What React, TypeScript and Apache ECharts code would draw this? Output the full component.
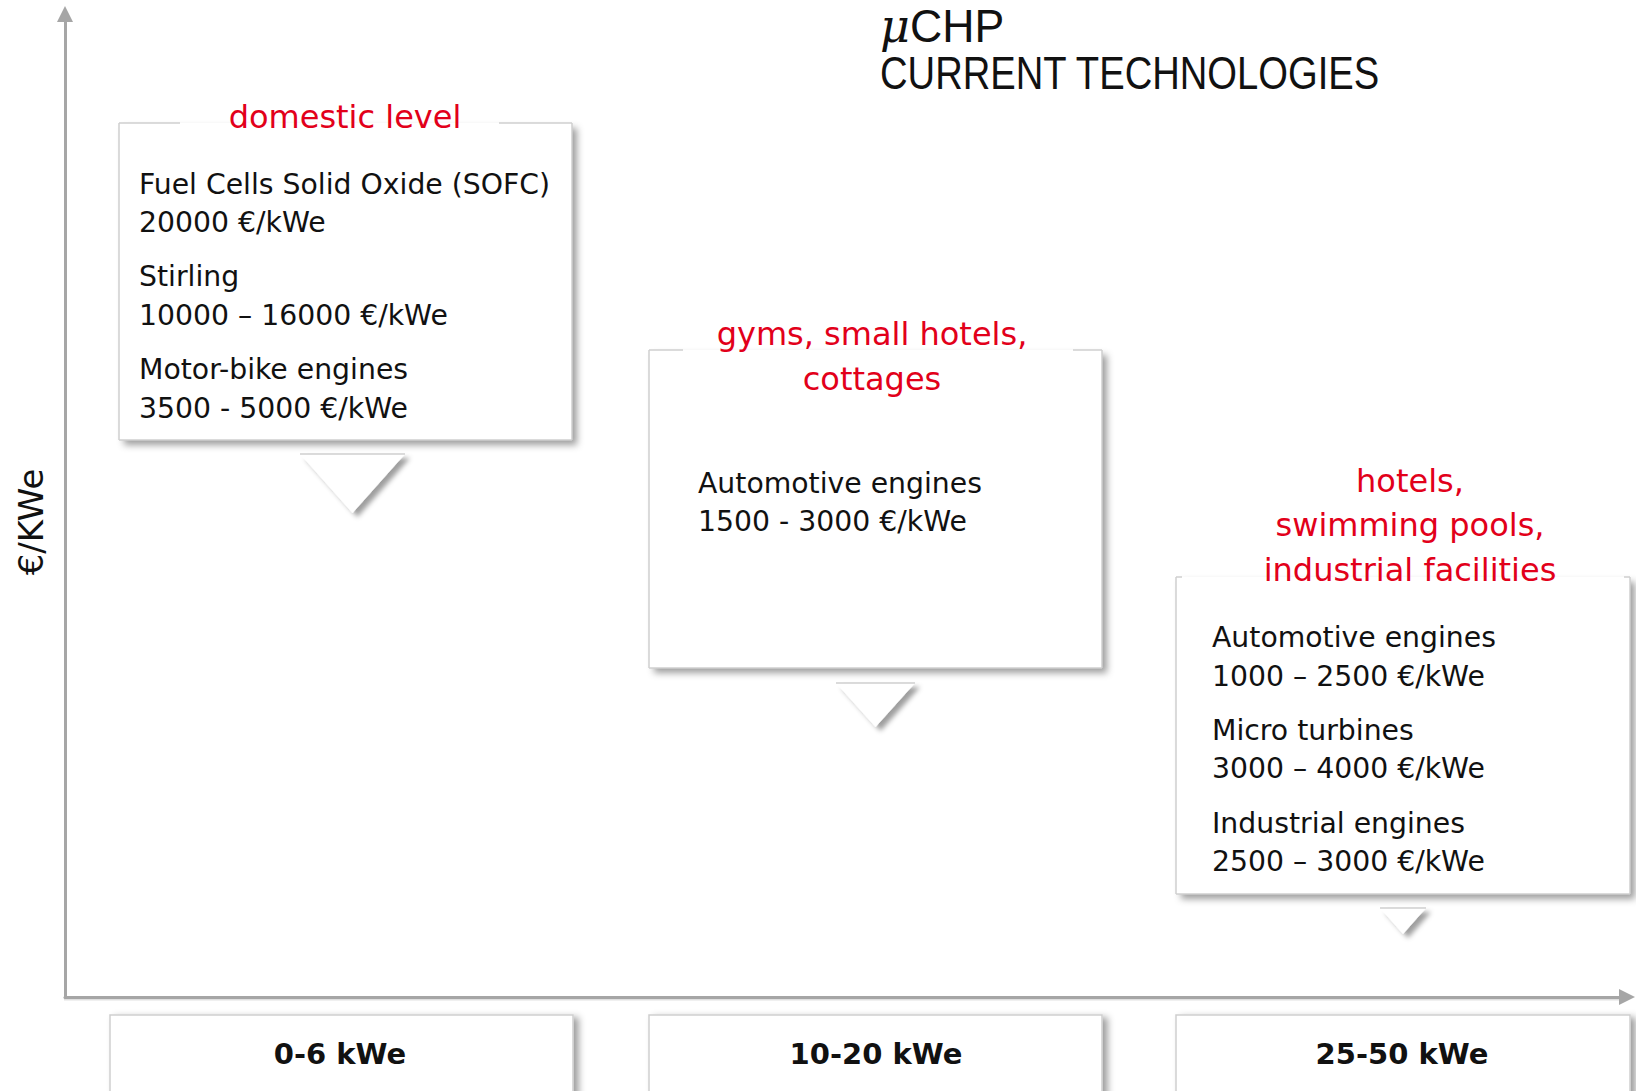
import React, { useEffect, useRef } from "react";
import * as echarts from "echarts";

// ---- content ----
const categories = ["0-6 kWe", "10-20 kWe", "25-50 kWe"];
const segmentTitles = [
  ["domestic level"],
  ["gyms, small hotels,", "cottages"],
  ["hotels,", "swimming pools,", "industrial facilities"],
];
const technologies = [
  [
    ["Fuel Cells Solid Oxide (SOFC)", "20000 €/kWe"],
    ["Stirling", "10000 – 16000 €/kWe"],
    ["Motor-bike engines", "3500 - 5000 €/kWe"],
  ],
  [["Automotive engines", "1500 - 3000 €/kWe"]],
  [
    ["Automotive engines", "1000 – 2500 €/kWe"],
    ["Micro turbines", "3000 – 4000 €/kWe"],
    ["Industrial engines", "2500 – 3000 €/kWe"],
  ],
];
const axisName = "€/KWe";
const titleMain = "CHP";
const titleSub = "CURRENT TECHNOLOGIES";

// ---- layout ----
const RED = "#e2001a";
const BORDER = "#cfcfcf";
const BODY_FONT = "DejaVu Sans";
const SHADOW = {
  shadowColor: "rgba(0,0,0,0.38)",
  shadowBlur: 7,
  shadowOffsetX: 5,
  shadowOffsetY: 5,
};

const panels = [
  { x: 119, y: 123, w: 453, h: 317, gap: [180, 499], titleX: 345, titleY: [117], textX: 139, textY: [184, 222, 276, 315, 369, 408], tri: [300, 405, 454, 513] },
  { x: 649, y: 350, w: 453, h: 318, gap: [683, 1073], titleX: 872, titleY: [334, 379], textX: 698, textY: [483, 521], tri: [836, 915, 683, 727] },
  { x: 1176, y: 577, w: 454, h: 317, gap: [1182, 1624], titleX: 1410, titleY: [481, 525, 570], textX: 1212, textY: [637, 676, 730, 768, 823, 861], tri: [1380, 1426, 908, 934] },
];
const bottomBoxes = [
  { x: 110, w: 463, cx: 340 },
  { x: 649, w: 453, cx: 876 },
  { x: 1176, w: 454, cx: 1402 },
];

function buildGraphic() {
  const g: any[] = [];
  panels.forEach((p, i) => {
    g.push({
      type: "rect",
      shape: { x: p.x, y: p.y, width: p.w, height: p.h },
      style: { fill: "#ffffff", ...SHADOW },
      z: 1,
    });
    const lines: number[][] = [
      [p.x, p.y, p.x, p.y + p.h],
      [p.x + p.w, p.y, p.x + p.w, p.y + p.h],
      [p.x, p.y + p.h, p.x + p.w, p.y + p.h],
    ];
    if (p.gap[0] > p.x) lines.push([p.x, p.y, p.gap[0], p.y]);
    if (p.gap[1] < p.x + p.w) lines.push([p.gap[1], p.y, p.x + p.w, p.y]);
    lines.forEach((l) =>
      g.push({
        type: "line",
        shape: { x1: l[0], y1: l[1], x2: l[2], y2: l[3] },
        style: { stroke: BORDER, lineWidth: 1.5 },
        z: 2,
      })
    );
    segmentTitles[i].forEach((t, k) =>
      g.push({
        type: "text",
        z: 3,
        style: {
          text: t,
          x: p.titleX,
          y: p.titleY[k],
          fill: RED,
          fontFamily: BODY_FONT,
          fontSize: 32,
          align: "center",
          verticalAlign: "middle",
        },
      })
    );
    let n = 0;
    technologies[i].forEach((pair) =>
      pair.forEach((t) => {
        g.push({
          type: "text",
          z: 3,
          style: {
            text: t,
            x: p.textX,
            y: p.textY[n++],
            fill: "#111111",
            fontFamily: BODY_FONT,
            fontSize: 28.3,
            align: "left",
            verticalAlign: "middle",
          },
        });
      })
    );
    const [x1, x2, ty, tip] = p.tri;
    g.push({
      type: "polygon",
      shape: { points: [[x1, ty], [x2, ty], [(x1 + x2) / 2, tip]] },
      style: { fill: "#ffffff", ...SHADOW, shadowBlur: 5, shadowOffsetX: 5, shadowOffsetY: 4 },
      z: 1,
    });
    g.push({
      type: "line",
      shape: { x1, y1: ty, x2, y2: ty },
      style: { stroke: BORDER, lineWidth: 1.5 },
      z: 2,
    });
  });

  bottomBoxes.forEach((b, i) => {
    g.push({
      type: "rect",
      shape: { x: b.x, y: 1015, width: b.w, height: 90 },
      style: { fill: "#ffffff", stroke: BORDER, lineWidth: 1.5, ...SHADOW, shadowOffsetY: 3 },
      z: 1,
    });
    g.push({
      type: "text",
      z: 3,
      style: {
        text: categories[i],
        x: b.cx,
        y: 1054,
        fill: "#111111",
        fontFamily: BODY_FONT,
        fontWeight: "bold",
        fontSize: 29,
        align: "center",
        verticalAlign: "middle",
      },
    });
  });

  // soft shadow under the horizontal axis
  g.push({
    type: "rect",
    shape: { x: 64, y: 998.5, width: 1556, height: 2 },
    style: { fill: "rgba(0,0,0,0.12)" },
    z: 0,
  });

  // titles
  g.push({
    type: "text",
    z: 3,
    style: {
      text: "μ",
      x: 880,
      y: 26,
      fill: "#111111",
      fontFamily: "DejaVu Serif",
      fontStyle: "italic",
      fontSize: 46,
      align: "left",
      verticalAlign: "middle",
    },
  });
  g.push({
    type: "text",
    z: 3,
    x: 910,
    y: 26,
    scaleX: 0.97,
    style: {
      text: titleMain,
      x: 0,
      y: 0,
      fill: "#111111",
      fontFamily: "Liberation Sans",
      fontSize: 46,
      align: "left",
      verticalAlign: "middle",
    },
  });
  g.push({
    type: "text",
    z: 3,
    x: 880,
    y: 73,
    scaleX: 0.83,
    style: {
      text: titleSub,
      x: 0,
      y: 0,
      fill: "#111111",
      fontFamily: "Liberation Sans",
      fontSize: 46,
      align: "left",
      verticalAlign: "middle",
    },
  });
  // axis name
  g.push({
    type: "text",
    z: 3,
    x: 31,
    y: 522,
    rotation: Math.PI / 2,
    style: {
      text: axisName,
      x: 0,
      y: 0,
      fill: "#111111",
      fontFamily: BODY_FONT,
      fontSize: 34,
      align: "center",
      verticalAlign: "middle",
    },
  });
  return g;
}

export default function App() {
  const ref = useRef<HTMLDivElement>(null);
  useEffect(() => {
    if (!ref.current) return;
    const chart = echarts.init(ref.current, null, { renderer: "svg" });
    const axisLine = {
      show: true,
      onZero: false,
      symbol: ["none", "triangle"],
      symbolSize: [16, 16],
      lineStyle: { color: "#a6a6a6", width: 3 },
    };
    chart.setOption({
      animation: false,
      backgroundColor: "#ffffff",
      grid: { left: 65, right: 9, top: 14, bottom: 94, containLabel: false },
      xAxis: {
        type: "value",
        min: 0,
        max: 1,
        axisLine,
        axisTick: { show: false },
        axisLabel: { show: false },
        splitLine: { show: false },
      },
      yAxis: {
        type: "value",
        min: 0,
        max: 1,
        axisLine,
        axisTick: { show: false },
        axisLabel: { show: false },
        splitLine: { show: false },
      },
      series: [],
      graphic: buildGraphic(),
    });
    return () => chart.dispose();
  }, []);
  return (
    <div
      ref={ref}
      style={{ position: "fixed", left: 0, top: 0, width: 1636, height: 1091 }}
    />
  );
}
